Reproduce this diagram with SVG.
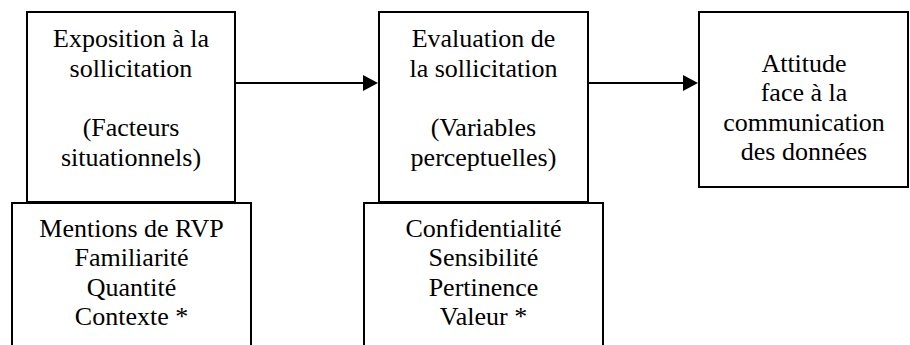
<svg xmlns="http://www.w3.org/2000/svg" width="910" height="345" viewBox="0 0 910 345">
<style>
.box{fill:#fff;stroke:#000;stroke-width:2}
.t{font-family:"Liberation Serif",serif;font-size:26px;fill:#000;text-anchor:middle}
.conn{stroke:#000;stroke-width:2;fill:none}
.head{fill:#000}
</style>
<rect width="910" height="345" fill="#fff"/>
<g id="connectors">
<line class="conn" x1="235" y1="83" x2="364" y2="83"/>
<polygon class="head" points="363,75 378,83 363,91"/>
<line class="conn" x1="588" y1="83" x2="684" y2="83"/>
<polygon class="head" points="683,75 698,83 683,91"/>
</g>
<g id="exposition">
<rect class="box" x="27" y="12" width="208" height="190"/>
<text class="t" x="131" y="47">Exposition à la</text>
<text class="t" x="131" y="77">sollicitation</text>
<text class="t" x="131" y="136">(Facteurs</text>
<text class="t" x="131" y="166">situationnels)</text>
</g>
<g id="facteurs">
<path class="box" d="M12,350 L12,203 L251,203 L251,350"/>
<text class="t" x="131.5" y="237">Mentions de RVP</text>
<text class="t" x="131.5" y="266">Familiarité</text>
<text class="t" x="131.5" y="296">Quantité</text>
<text class="t" x="131.5" y="325">Contexte *</text>
</g>
<g id="evaluation">
<rect class="box" x="379" y="12" width="209" height="190"/>
<text class="t" x="483.5" y="47">Evaluation de</text>
<text class="t" x="483.5" y="77">la sollicitation</text>
<text class="t" x="483.5" y="136">(Variables</text>
<text class="t" x="483.5" y="166">perceptuelles)</text>
</g>
<g id="variables">
<path class="box" d="M364,350 L364,203 L603,203 L603,350"/>
<text class="t" x="483.5" y="237">Confidentialité</text>
<text class="t" x="483.5" y="266">Sensibilité</text>
<text class="t" x="483.5" y="296">Pertinence</text>
<text class="t" x="483.5" y="325">Valeur *</text>
</g>
<g id="attitude">
<rect class="box" x="699" y="12" width="209" height="175"/>
<text class="t" x="804" y="72">Attitude</text>
<text class="t" x="804" y="101">face à la</text>
<text class="t" x="804" y="131">communication</text>
<text class="t" x="804" y="160">des données</text>
</g>
</svg>
